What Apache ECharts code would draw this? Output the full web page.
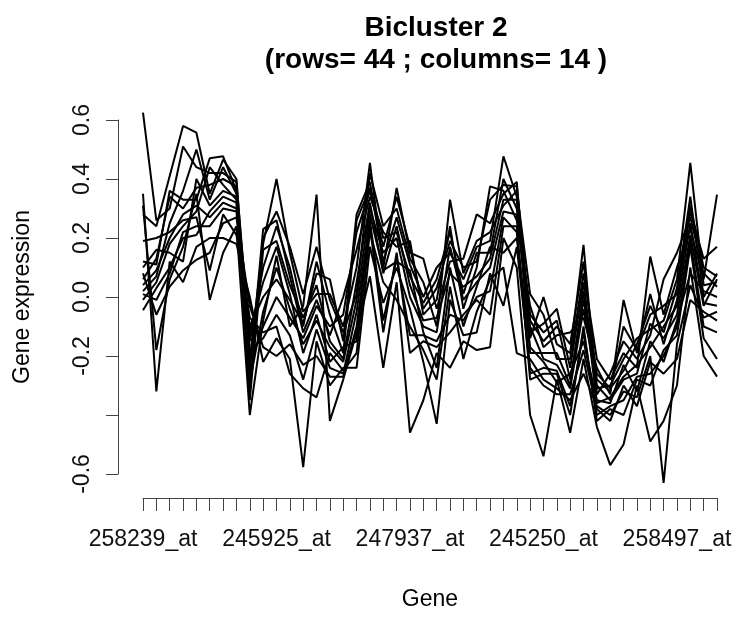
<!DOCTYPE html>
<html>
<head>
<meta charset="utf-8">
<script src="https://cdn.jsdelivr.net/npm/echarts@6/dist/echarts.min.js"></script>
<style>
html,body{margin:0;padding:0;background:#fff;}
#chart{width:739px;height:617px;}
</style>
</head>
<body>
<div id="chart"></div>
<script>
// Gene (row) labels: only every 10th label is legible in the reference
var genes = ["258239_at","","","","","","","","","",
  "245925_at","","","","","","","","","",
  "247937_at","","","","","","","","","",
  "245250_at","","","","","","","","","",
  "258497_at","","",""];

var yTicks = [-0.6, -0.4, -0.2, 0.0, 0.2, 0.4, 0.6];
var yTickLabels = ["-0.6", "", "-0.2", "0.0", "0.2", "0.4", "0.6"];

// 14 conditions (columns), each a profile across the 44 genes
var col1 = [0.625,0.26,0.30,0.51,0.44,0.42,0.42,0.39,-0.15,0.10,0.24,0.10,-0.10,0.12,-0.06,-0.19,0.26,0.37,0.20,0.22,0.07,-0.02,0.06,0.22,0.01,0.15,0.15,0.40,0.30,-0.06,-0.12,-0.08,-0.28,-0.01,-0.26,-0.31,-0.25,-0.16,-0.03,-0.12,0.03,0.34,0.00,0.08];
var col2 = [0.35,-0.32,0.12,0.05,0.17,0.20,0.20,0.18,0.00,-0.22,-0.14,-0.21,-0.577,-0.15,-0.30,-0.24,-0.24,0.17,-0.02,0.10,-0.04,-0.22,-0.43,-0.01,-0.13,-0.12,0.08,-0.03,0.17,-0.24,-0.30,-0.33,-0.33,-0.18,-0.38,-0.42,-0.30,-0.37,-0.22,-0.26,-0.21,-0.01,-0.05,-0.08];
var col3 = [0.31,-0.18,0.06,0.17,0.35,-0.01,0.15,0.24,-0.40,-0.08,0.14,-0.10,-0.03,0.347,-0.42,-0.28,-0.12,0.07,-0.24,0.05,-0.46,-0.35,-0.19,-0.24,-0.15,-0.18,-0.17,0.20,0.10,-0.40,-0.54,-0.28,-0.46,-0.21,-0.44,-0.57,-0.50,-0.30,-0.49,-0.42,-0.30,0.10,-0.20,-0.27];
var col4 = [0.28,0.24,0.41,0.58,0.557,0.35,0.466,0.40,-0.21,0.18,0.40,0.15,-0.05,0.01,0.01,-0.10,0.10,0.455,0.10,0.37,0.15,0.13,-0.04,0.12,0.13,0.28,0.25,0.35,0.39,-0.14,0.00,-0.16,-0.19,0.177,-0.33,-0.26,-0.15,-0.21,-0.13,0.06,0.15,0.27,0.08,0.035];
var col5 = [0.19,0.20,0.22,0.26,0.27,0.09,0.28,0.21,-0.07,-0.12,-0.10,-0.26,-0.31,-0.34,-0.19,-0.25,-0.19,0.22,0.05,-0.01,-0.10,-0.18,-0.28,0.035,-0.21,-0.05,0.06,0.10,-0.19,-0.21,-0.28,-0.31,-0.35,-0.26,-0.37,-0.40,-0.32,-0.34,-0.20,-0.63,-0.16,0.04,-0.07,-0.05];
var col6 = [0.12,0.11,0.36,0.33,0.33,0.47,0.477,0.36,-0.26,0.23,0.26,0.07,-0.12,-0.01,-0.13,0.00,0.16,0.34,0.22,0.17,0.19,-0.06,-0.01,0.24,-0.04,0.10,0.375,0.36,0.26,-0.03,-0.17,-0.13,-0.12,-0.07,-0.24,-0.33,-0.01,-0.19,0.01,-0.16,-0.01,0.29,0.13,0.17];
var col7 = [0.10,0.16,0.15,0.12,0.40,0.31,0.36,0.34,-0.10,0.00,0.06,-0.01,-0.09,0.08,0.06,-0.15,0.28,0.39,0.12,0.27,0.11,0.00,0.10,0.15,0.06,0.17,0.19,0.477,0.34,-0.12,-0.09,-0.04,-0.24,0.05,-0.31,-0.30,-0.21,-0.14,-0.11,-0.08,0.06,0.455,0.04,0.05];
var col8 = [0.08,-0.06,0.035,0.09,0.126,0.15,0.25,0.27,-0.03,-0.17,-0.20,-0.16,-0.23,-0.20,-0.27,-0.27,-0.10,0.24,-0.12,0.15,-0.19,-0.15,-0.17,-0.12,-0.06,-0.01,-0.06,0.24,0.24,-0.28,-0.26,-0.26,-0.40,-0.10,-0.42,-0.38,-0.40,-0.28,-0.30,-0.18,-0.13,0.17,-0.14,-0.21];
var col9 = [0.06,0.13,0.34,0.30,0.37,0.38,0.40,0.375,-0.32,0.20,0.29,0.17,0.01,0.17,-0.01,-0.12,0.01,0.42,0.24,0.30,0.13,0.05,-0.10,0.33,0.08,0.19,0.22,0.31,0.36,0.01,-0.06,-0.21,-0.21,0.08,-0.21,-0.28,-0.19,-0.24,0.137,-0.06,0.10,0.23,0.06,0.347];
var col10 = [0.04,0.09,0.20,0.28,0.31,0.27,0.32,0.30,-0.12,0.05,0.17,0.01,-0.19,-0.06,-0.22,-0.17,-0.15,0.28,0.09,0.12,0.09,-0.12,-0.24,0.10,-0.10,0.035,0.17,0.15,0.20,-0.17,-0.22,-0.29,-0.26,-0.15,-0.35,-0.36,-0.23,-0.32,-0.15,-0.22,-0.08,0.08,0.02,0.00];
var col11 = [0.02,0.07,0.25,0.36,0.50,0.33,0.44,0.35,-0.23,-0.10,0.00,-0.07,-0.14,-0.03,-0.10,-0.06,0.22,0.36,0.17,0.34,0.17,-0.04,0.03,0.19,0.10,0.12,0.33,0.38,0.375,-0.08,-0.15,-0.10,-0.16,0.12,-0.28,-0.32,-0.10,-0.18,-0.06,-0.03,0.01,0.31,0.10,0.07];
var col12 = [0.01,-0.01,0.08,0.22,0.24,0.24,0.30,0.29,-0.18,-0.14,-0.06,-0.13,-0.28,-0.11,-0.24,-0.26,-0.05,0.26,-0.08,0.13,-0.13,-0.13,-0.15,-0.06,-0.08,0.00,0.02,0.27,0.22,-0.26,-0.24,-0.25,-0.37,-0.12,-0.40,-0.37,-0.35,-0.27,-0.26,-0.20,-0.10,0.19,-0.10,-0.12];
var col13 = [-0.01,0.05,0.18,0.24,0.29,0.44,0.38,0.33,-0.35,0.16,0.19,0.04,-0.07,0.04,-0.15,-0.21,0.05,0.32,0.08,0.24,0.04,-0.08,-0.07,0.08,0.035,0.07,0.13,0.33,0.33,-0.19,-0.19,-0.19,-0.30,0.02,-0.36,-0.34,-0.27,-0.23,-0.17,-0.10,-0.03,0.25,-0.02,-0.03];
var col14 = [-0.045,0.03,0.10,0.20,0.21,0.29,0.34,0.32,-0.29,-0.05,0.10,-0.04,-0.16,-0.08,-0.17,-0.22,-0.01,0.30,0.15,0.20,0.00,-0.10,-0.12,0.17,-0.01,0.05,0.10,0.29,0.28,-0.10,-0.21,-0.23,-0.31,-0.04,-0.30,-0.35,-0.28,-0.26,-0.09,-0.14,-0.06,0.21,-0.03,0.06];

var columns = [col1,col2,col3,col4,col5,col6,col7,col8,col9,col10,col11,col12,col13,col14];

var FONT = "'Liberation Sans', Arial, Helvetica, sans-serif";

var series = columns.map(function (d, k) {
  return {
    type: 'line',
    name: 'col' + (k + 1),
    data: d,
    showSymbol: false,
    symbol: 'none',
    clip: false,
    silent: true,
    lineStyle: { color: '#000', width: 2 }
  };
});

var chart = echarts.init(document.getElementById('chart'), null, { renderer: 'canvas' });
chart.setOption({
  animation: false,
  backgroundColor: '#fff',
  title: {
    text: 'Bicluster 2\n(rows= 44 ; columns= 14 )',
    left: 431,
    textAlign: 'center',
    top: 7,
    textStyle: {
      fontFamily: FONT, fontSize: 28, fontWeight: 'bold',
      color: '#000', lineHeight: 32
    }
  },
  grid: { left: 143, right: 22, top: 120, bottom: 143, containLabel: false },
  xAxis: {
    type: 'category',
    data: genes,
    boundaryGap: false,
    offset: 24,
    name: 'Gene',
    nameLocation: 'middle',
    nameGap: 90,
    nameTextStyle: { fontFamily: FONT, fontSize: 23, color: '#000' },
    axisLine: { show: true, onZero: false, lineStyle: { color: '#444', width: 1 } },
    axisTick: { show: true, interval: 0, length: 13, inside: false, lineStyle: { color: '#444', width: 1 } },
    axisLabel: { interval: 9, margin: 30, fontFamily: FONT, fontSize: 23, color: '#111', hideOverlap: false },
    splitLine: { show: false }
  },
  yAxis: {
    type: 'value',
    min: -0.6,
    max: 0.6,
    interval: 0.2,
    offset: 25,
    name: 'Gene expression',
    nameLocation: 'middle',
    nameGap: 84,
    nameRotate: 90,
    nameTextStyle: { fontFamily: FONT, fontSize: 23, color: '#000' },
    axisLine: { show: true, onZero: false, lineStyle: { color: '#444', width: 1 } },
    axisTick: { show: true, length: 12, lineStyle: { color: '#444', width: 1 } },
    axisLabel: {
      rotate: 90, margin: 24, fontFamily: FONT, fontSize: 23, color: '#111',
      formatter: function (v) {
        for (var i = 0; i < yTicks.length; i++) {
          if (Math.abs(v - yTicks[i]) < 1e-6) return yTickLabels[i];
        }
        return '';
      }
    },
    splitLine: { show: false }
  },
  series: series
});
</script>
</body>
</html>
